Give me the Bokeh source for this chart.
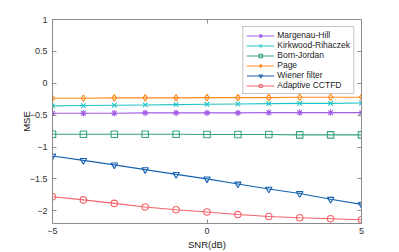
from bokeh.plotting import figure
from bokeh.models import LinearAxis, Range1d, FixedTicker, Legend
from bokeh.embed import file_html
from bokeh.resources import INLINE

snr = [-5, -4, -3, -2, -1, 0, 1, 2, 3, 4, 5]
margenau_hill = [-0.47, -0.47, -0.47, -0.465, -0.465, -0.465, -0.465, -0.46, -0.46, -0.46, -0.46]
kirkwood_rihaczek = [-0.355, -0.35, -0.345, -0.34, -0.335, -0.33, -0.325, -0.32, -0.315, -0.315, -0.31]
born_jordan = [-0.80, -0.80, -0.80, -0.80, -0.80, -0.805, -0.805, -0.805, -0.81, -0.81, -0.81]
page = [-0.235, -0.235, -0.23, -0.23, -0.23, -0.225, -0.225, -0.225, -0.22, -0.22, -0.22]
wiener = [-1.14, -1.21, -1.28, -1.355, -1.43, -1.50, -1.58, -1.66, -1.73, -1.82, -1.90]
adaptive = [-1.78, -1.83, -1.885, -1.94, -1.985, -2.02, -2.06, -2.09, -2.11, -2.125, -2.14]

series = [
    ("Margenau-Hill", margenau_hill, "#a35ee6", "asterisk"),
    ("Kirkwood-Rihaczek", kirkwood_rihaczek, "#22c3c8", "x"),
    ("Born-Jordan", born_jordan, "#36a47a", "square"),
    ("Page", page, "#ff8a1c", "diamond"),
    ("Wiener filter", wiener, "#1762b0", "inverted_triangle"),
    ("Adaptive CCTFD", adaptive, "#f2636b", "circle"),
]

FONT = "Liberation Sans"
AX = "#8c8c8c"

p = figure(width=399, height=252, output_backend="svg", toolbar_location=None,
           x_range=Range1d(-5, 5), y_range=Range1d(-2.2, 1),
           min_border_left=52, min_border_top=19, min_border_right=38, min_border_bottom=28)
p.outline_line_color = None
p.grid.visible = False
p.background_fill_color = "white"

items = []
for name, ys, col, mk in series:
    r1 = p.line(snr, ys, line_color=col, line_width=1.1)
    r2 = p.scatter(snr, ys, marker=mk, size=6.5, line_color=col, fill_color=None, line_width=1.1)
    items.append((name, [r1, r2]))

legend = Legend(items=items, location="top_right", margin=7,
                label_text_font=FONT, label_text_font_size="8.5px", label_text_color="#222222",
                label_height=9, glyph_height=9, glyph_width=28, spacing=0, padding=3,
                label_standoff=3, border_line_color="#8c8c8c", border_line_width=1,
                background_fill_alpha=1.0)
p.add_layout(legend, "center")

def style(ax, labels=True):
    ax.axis_line_color = AX
    ax.major_tick_line_color = AX
    ax.minor_tick_line_color = None
    ax.major_tick_in = 4
    ax.major_tick_out = 0
    ax.major_label_text_font = FONT
    ax.major_label_text_font_size = "9px"
    ax.major_label_text_color = "#333333"
    ax.axis_label_text_font = FONT
    ax.axis_label_text_font_size = "9.5px"
    ax.axis_label_text_font_style = "normal"
    ax.axis_label_text_color = "#222222"
    if not labels:
        ax.major_label_text_font_size = "0px"
        ax.major_label_text_color = None
        ax.major_label_standoff = 0

p.yaxis.ticker = FixedTicker(ticks=[-2, -1.5, -1, -0.5, 0, 0.5, 1])
p.xaxis.ticker = FixedTicker(ticks=[-5, 0, 5])
p.yaxis.axis_label = "MSE"
p.xaxis.axis_label = "SNR(dB)"
p.yaxis.major_label_standoff = 5
p.xaxis.major_label_standoff = 4
p.xaxis.axis_label_standoff = 2
p.yaxis.axis_label_standoff = -5
style(p.yaxis[0])
style(p.xaxis[0])

ra = LinearAxis(ticker=FixedTicker(ticks=[-2, -1.5, -1, -0.5, 0, 0.5, 1]))
style(ra, labels=False)
p.add_layout(ra, "right")
ta = LinearAxis(ticker=FixedTicker(ticks=[-5, 0, 5]))
style(ta, labels=False)
p.add_layout(ta, "above")

open("out.html", "w").write(file_html(p, INLINE))
